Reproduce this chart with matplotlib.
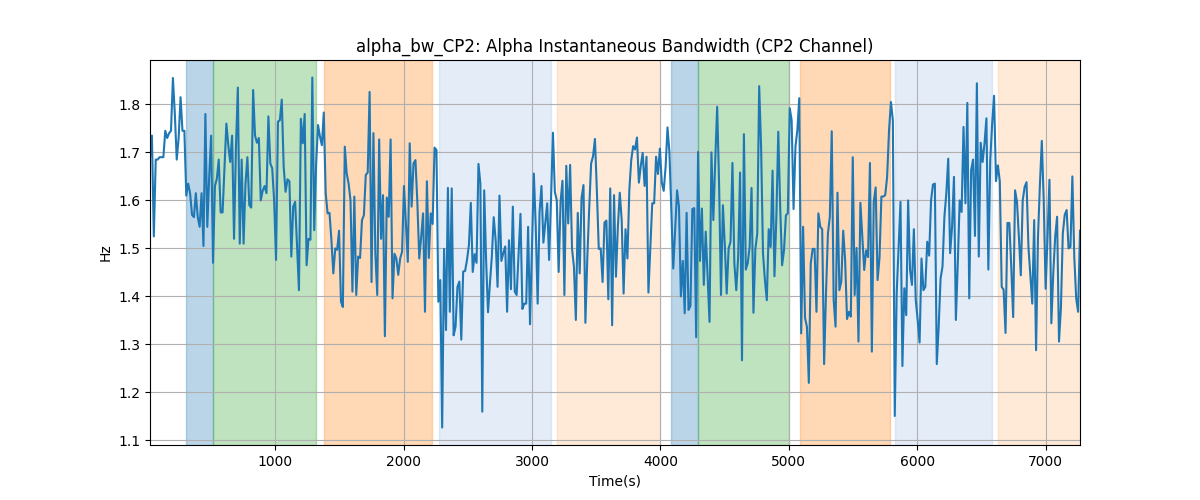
import numpy as np
import matplotlib
matplotlib.use("Agg")
import matplotlib.pyplot as plt

bw_values = [
    1.69, 1.735, 1.525, 1.685, 1.685, 1.69, 1.69, 1.69, 1.745, 1.73, 1.74, 1.745,
    1.855, 1.78, 1.685, 1.73, 1.815, 1.745, 1.745, 1.61, 1.635, 1.615, 1.57, 1.565,
    1.615, 1.565, 1.545, 1.615, 1.505, 1.78, 1.545, 1.65, 1.735, 1.47, 1.63, 1.645,
    1.685, 1.575, 1.575, 1.665, 1.76, 1.715, 1.68, 1.735, 1.52, 1.71, 1.835, 1.51,
    1.685, 1.51, 1.635, 1.69, 1.59, 1.585, 1.83, 1.735, 1.72, 1.73, 1.60, 1.62,
    1.63, 1.615, 1.775,
    1.677, 1.667, 1.60, 1.476, 1.764, 1.767, 1.81, 1.67, 1.618, 1.644, 1.64, 1.483,
    1.587, 1.597, 1.503, 1.413, 1.77, 1.719, 1.78, 1.465, 1.52, 1.518, 1.856, 1.538,
    1.677, 1.757, 1.733, 1.715, 1.783, 1.615, 1.573, 1.574, 1.517, 1.448, 1.50, 1.497,
    1.537, 1.389, 1.378, 1.712, 1.656, 1.635, 1.60, 1.41, 1.608, 1.403, 1.483, 1.48,
    1.559, 1.569, 1.653, 1.658, 1.826, 1.43, 1.74, 1.49, 1.403, 1.727, 1.52, 1.611,
    1.317, 1.606, 1.566, 1.727, 1.396, 1.489, 1.479, 1.445, 1.479, 1.493, 1.63, 1.554,
    1.472, 1.719, 1.587, 1.677, 1.684, 1.596, 1.479, 1.524, 1.573, 1.368, 1.64, 1.48,
    1.573, 1.551, 1.71, 1.705, 1.389, 1.434, 1.127, 1.499, 1.33, 1.626, 1.368, 1.625,
    1.319, 1.337, 1.42, 1.431, 1.31, 1.452, 1.453, 1.476, 1.507, 1.595, 1.451, 1.488,
    1.47, 1.676, 1.635, 1.16, 1.621, 1.476, 1.367, 1.427, 1.483, 1.565, 1.517, 1.42,
    1.61, 1.474, 1.49, 1.504, 1.368, 1.517, 1.415, 1.587, 1.41, 1.403, 1.49, 1.572,
    1.374, 1.385, 1.385, 1.545, 1.342, 1.499, 1.656, 1.545, 1.385, 1.576, 1.63, 1.512,
    1.554, 1.594, 1.476, 1.603, 1.741, 1.618, 1.60, 1.451, 1.597, 1.641, 1.403, 1.672,
    1.552, 1.674, 1.499, 1.462, 1.351, 1.574, 1.448, 1.606, 1.632, 1.345, 1.48, 1.584,
    1.677, 1.692, 1.728, 1.621, 1.499, 1.50, 1.43, 1.554, 1.558, 1.394, 1.625, 1.34,
    1.611,
    1.441, 1.545, 1.616, 1.559, 1.406, 1.54, 1.479, 1.621, 1.684, 1.713, 1.706, 1.731,
    1.637, 1.672, 1.699, 1.63, 1.691, 1.408, 1.50, 1.594, 1.594, 1.691, 1.655, 1.708,
    1.637, 1.62, 1.67, 1.752, 1.70, 1.582, 1.458, 1.54, 1.621, 1.587, 1.40, 1.474,
    1.365, 1.574, 1.372, 1.38, 1.582, 1.584, 1.315, 1.701, 1.474, 1.583, 1.424, 1.535,
    1.441, 1.347, 1.70, 1.559, 1.684, 1.795, 1.635, 1.403, 1.59, 1.507, 1.406, 1.50,
    1.514, 1.678, 1.469, 1.413, 1.483, 1.658, 1.267, 1.738, 1.456, 1.469, 1.503, 1.626,
    1.366, 1.499, 1.531, 1.838, 1.712, 1.49, 1.434, 1.392, 1.54, 1.503, 1.662, 1.442,
    1.566, 1.743, 1.587, 1.465, 1.496, 1.569, 1.573, 1.792, 1.767, 1.582, 1.712, 1.747,
    1.813, 1.323, 1.545, 1.355, 1.337, 1.22, 1.469, 1.499, 1.499, 1.368, 1.573, 1.545,
    1.54, 1.259, 1.408, 1.531, 1.566, 1.744, 1.392, 1.337, 1.616, 1.413, 1.431, 1.537,
    1.476, 1.353, 1.368, 1.358, 1.69, 1.403, 1.501, 1.306, 1.595, 1.524, 1.455, 1.496,
    1.482, 1.678, 1.285, 1.597, 1.627, 1.434, 1.48, 1.608, 1.608, 1.611, 1.649, 1.746,
    1.805, 1.767, 1.151, 1.406, 1.504, 1.597, 1.255, 1.417, 1.361, 1.60, 1.455, 1.424,
    1.54, 1.392, 1.351, 1.304, 1.479, 1.413, 1.42, 1.514, 1.485, 1.60, 1.633, 1.635,
    1.259, 1.337, 1.438, 1.462, 1.566, 1.615, 1.687, 1.49, 1.545, 1.649, 1.351, 1.469,
    1.60,
    1.576, 1.753, 1.594, 1.803, 1.396, 1.663, 1.685, 1.526, 1.844, 1.483, 1.72, 1.68,
    1.719, 1.771, 1.456, 1.684, 1.76, 1.818, 1.64, 1.673, 1.64, 1.42, 1.414, 1.324,
    1.553, 1.553, 1.462, 1.357, 1.621, 1.597, 1.524, 1.444, 1.60, 1.628, 1.638, 1.503,
    1.444, 1.385, 1.559, 1.288, 1.524, 1.632, 1.724, 1.60, 1.416, 1.524, 1.643, 1.344,
    1.448, 1.524, 1.566, 1.306, 1.375, 1.531, 1.57, 1.58, 1.50, 1.503, 1.65, 1.483,
    1.396, 1.368, 1.537,
]
t_start, t_end = 26, 7266

# shaded segments: (start, end, colour, alpha)
seg_starts = [307, 514, 1382, 2278, 3198, 4081, 4292, 5084, 5822, 6627]
seg_ends = [514, 1317, 2221, 3149, 3998, 4292, 5003, 5783, 6578, 7400]
seg_colors = ["tab:blue", "tab:green", "tab:orange", "#aec7e8", "tab:orange",
              "tab:blue", "tab:green", "tab:orange", "#aec7e8", "tab:orange"]
seg_alphas = [0.3, 0.3, 0.3, 0.33, 0.16, 0.3, 0.3, 0.3, 0.33, 0.16]

times = np.linspace(t_start, t_end, len(bw_values))

fig, ax = plt.subplots(figsize=(12, 5), dpi=100)
for s, e, c, a in zip(seg_starts, seg_ends, seg_colors, seg_alphas):
    ax.axvspan(s, e, color=c, alpha=a)
ax.plot(times, bw_values, color="tab:blue", linewidth=1.5)
ax.set_xlim(t_start, t_end)
ax.grid(True)
ax.set_title("alpha_bw_CP2: Alpha Instantaneous Bandwidth (CP2 Channel)")
ax.set_xlabel("Time(s)")
ax.set_ylabel("Hz")
fig.savefig("out.png", dpi=100)
